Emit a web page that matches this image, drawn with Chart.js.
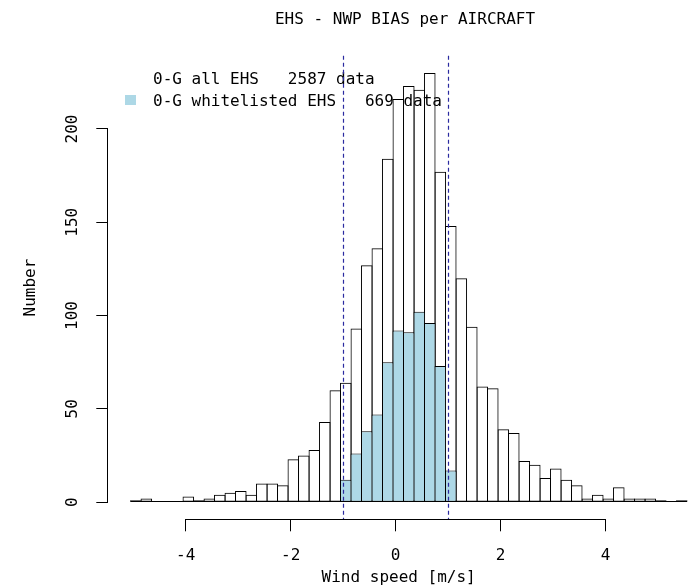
<!DOCTYPE html>
<html><head><meta charset="utf-8">
<script src="https://cdn.jsdelivr.net/npm/chart.js@4/dist/chart.umd.min.js"></script>
<style>html,body{margin:0;padding:0;background:#fff}#wrap{width:689px;height:586px;overflow:hidden}</style>
</head><body><div id="wrap"><canvas id="c" width="689" height="586"></canvas></div>
<script>
// ---- data ----
const binCenters = [-4.95, -4.75, -4.55, -4.35, -4.15, -3.95, -3.75, -3.55, -3.35, -3.15,
  -2.95, -2.75, -2.55, -2.35, -2.15, -1.95, -1.75, -1.55, -1.35, -1.15,
  -0.95, -0.75, -0.55, -0.35, -0.15, 0.05, 0.25, 0.45, 0.65, 0.85,
  1.05, 1.25, 1.45, 1.65, 1.85, 2.05, 2.25, 2.45, 2.65, 2.85,
  3.05, 3.25, 3.45, 3.65, 3.85, 4.05, 4.25, 4.45, 4.65, 4.85,
  5.05, 5.25, 5.45];
const allCounts = [1, 2, 0, 0, 0, 3, 1, 2, 4, 5,
  6, 4, 10, 10, 9, 23, 25, 28, 43, 60,
  64, 93, 127, 136, 184, 216, 223, 221, 230, 177,
  148, 120, 94, 62, 61, 39, 37, 22, 20, 13,
  18, 12, 9, 2, 4, 2, 8, 2, 2, 2,
  1, 0, 1];
const whiteCenters = [-0.95, -0.75, -0.55, -0.35, -0.15, 0.05, 0.25, 0.45, 0.65, 0.85, 1.05];
const whiteCounts = [12, 26, 38, 47, 75, 92, 91, 102, 96, 73, 17];
const binEdges = [-5.05, 5.55];
const thresholds = [-1, 1];
const xTickValues = [-4, -2, 0, 2, 4];
const yTickValues = [0, 50, 100, 150, 200];
const legendLabels = ['0-G all EHS   2587 data', '0-G whitelisted EHS   669 data'];
const chartTitle = 'EHS - NWP BIAS per AIRCRAFT';
const xTitle = 'Wind speed [m/s]';
const yTitle = 'Number';

// ---- axis ranges ----
const xMin = -5.474, xMax = 5.587;
const yMin = -9.2, yMax = 239.2;

const FONT = '"DejaVu Sans Mono", monospace';
const BLUE = '#ADD8E6';
const DASH = '#2a2aa0';

const decor = {
  id: 'decor',
  afterDatasetsDraw(chart) {
    const {ctx, chartArea: a, scales: {x, y}} = chart;
    ctx.save();
    ctx.strokeStyle = '#000'; ctx.lineWidth = 1;
    const by = Math.round(y.getPixelForValue(0)) - 0.5;
    ctx.beginPath();
    ctx.moveTo(x.getPixelForValue(binEdges[0]), by);
    ctx.lineTo(x.getPixelForValue(binEdges[1]), by);
    ctx.stroke();
    ctx.fillStyle = '#000';
    ctx.font = '16px ' + FONT;
    ctx.textBaseline = 'alphabetic';
    ctx.textAlign = 'left';
    ctx.fillText(legendLabels[0], 153, 84);
    ctx.fillText(legendLabels[1], 153, 106);
    ctx.fillStyle = BLUE;
    ctx.fillRect(125, 95, 11, 10);
    ctx.strokeStyle = DASH; ctx.lineWidth = 1.2;
    ctx.setLineDash([4, 3]);
    thresholds.forEach(t => {
      const px = Math.round(x.getPixelForValue(t)) + 0.5;
      ctx.beginPath();
      ctx.moveTo(px, a.top);
      ctx.lineTo(px, a.bottom);
      ctx.stroke();
    });
    ctx.restore();
  },
  afterDraw(chart) {
    const {ctx, chartArea: a, scales: {x, y}} = chart;
    ctx.save();
    ctx.strokeStyle = '#000'; ctx.lineWidth = 1;
    const ax = Math.round(a.left) - 0.5;
    ctx.beginPath();
    ctx.moveTo(ax, y.getPixelForValue(yTickValues[0]));
    ctx.lineTo(ax, y.getPixelForValue(yTickValues[yTickValues.length - 1]));
    ctx.stroke();
    const ay = Math.round(a.bottom) + 0.5;
    ctx.beginPath();
    ctx.moveTo(x.getPixelForValue(xTickValues[0]), ay);
    ctx.lineTo(x.getPixelForValue(xTickValues[xTickValues.length - 1]), ay);
    ctx.stroke();
    ctx.fillStyle = '#000';
    ctx.font = '16px ' + FONT;
    ctx.textAlign = 'center';
    ctx.textBaseline = 'alphabetic';
    ctx.fillText(chartTitle, 405, 24);
    ctx.restore();
  }
};

new Chart(document.getElementById('c'), {
  type: 'bar',
  data: {
    datasets: [
      {
        label: legendLabels[1],
        data: whiteCenters.map((v, i) => ({x: v, y: whiteCounts[i]})),
        backgroundColor: BLUE,
        borderColor: '#000',
        borderWidth: 1,
        borderSkipped: false,
        grouped: false,
        order: 0,
        categoryPercentage: 1,
        barPercentage: 1.1
      },
      {
        label: legendLabels[0],
        data: binCenters.map((v, i) => ({x: v, y: allCounts[i]})),
        backgroundColor: 'rgba(255,255,255,0)',
        borderColor: '#000',
        borderWidth: 1,
        borderSkipped: false,
        grouped: false,
        order: 1,
        categoryPercentage: 1,
        barPercentage: 1.1
      }
    ]
  },
  options: {
    responsive: false,
    animation: false,
    devicePixelRatio: 1,
    layout: {padding: {left: 0, right: 0, top: 55.8, bottom: 0}},
    plugins: {legend: {display: false}, tooltip: {enabled: false}, title: {display: false}},
    scales: {
      x: {
        type: 'linear',
        offset: false,
        min: xMin, max: xMax,
        afterFit: s => { s.height = 66.7; },
        border: {display: false},
        grid: {offset: false, drawOnChartArea: false, drawTicks: true, tickLength: 12, color: '#000', tickColor: '#000'},
        afterBuildTicks: s => { s.ticks = xTickValues.map(v => ({value: v})); },
        ticks: {stepSize: 2, includeBounds: false, autoSkip: false, maxRotation: 0, minRotation: 0,
          padding: 15, color: '#000', font: {family: FONT, size: 16}},
        title: {display: true, text: xTitle, color: '#000', font: {family: FONT, size: 16, lineHeight: 1},
          padding: {top: 0, bottom: 0}}
      },
      y: {
        type: 'linear',
        min: yMin, max: yMax,
        afterFit: s => { s.width = 108.3; },
        border: {display: false},
        grid: {drawOnChartArea: false, drawTicks: true, tickLength: 12, color: '#000', tickColor: '#000'},
        afterBuildTicks: s => { s.ticks = yTickValues.map(v => ({value: v})); },
        ticks: {autoSkip: false, minRotation: 90, maxRotation: 90, crossAlign: 'center',
          padding: 9, color: '#000', font: {family: FONT, size: 16}},
        title: {display: true, text: yTitle, color: '#000', font: {family: FONT, size: 16, lineHeight: 1},
          padding: {top: 23, bottom: 0}}
      }
    }
  },
  plugins: [decor]
});
</script>
</body></html>
